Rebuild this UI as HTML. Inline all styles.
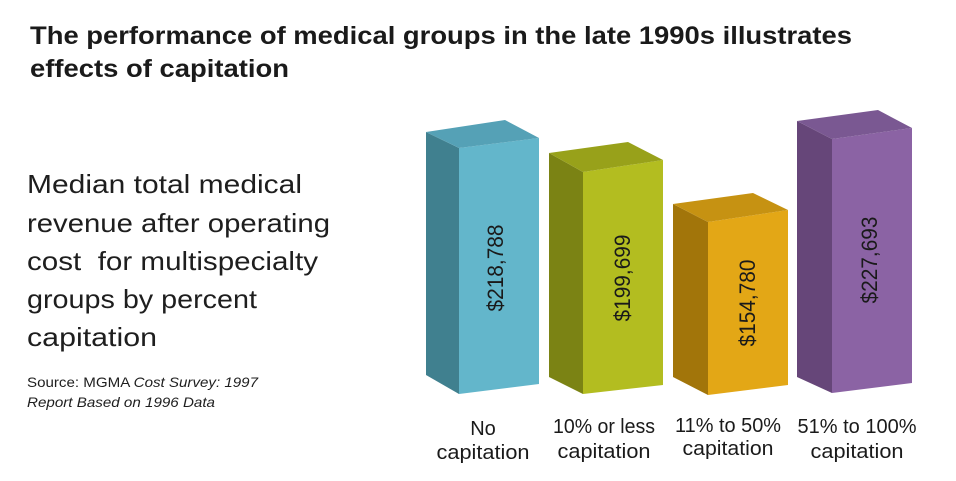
<!DOCTYPE html>
<html>
<head>
<meta charset="utf-8">
<style>
  html,body{margin:0;padding:0;background:#fff;}
  svg{display:block;}
  text{font-family:"Liberation Sans", sans-serif;}
</style>
</head>
<body>
<svg width="956" height="481" viewBox="0 0 956 481" xmlns="http://www.w3.org/2000/svg">
  <rect width="956" height="481" fill="#ffffff"/>

  <!-- Title -->
  <text x="30" y="44" font-size="25" font-weight="bold" fill="#1a1a1a" textLength="822" lengthAdjust="spacingAndGlyphs">The performance of medical groups in the late 1990s illustrates</text>
  <text x="30" y="77" font-size="25" font-weight="bold" fill="#1a1a1a" textLength="259" lengthAdjust="spacingAndGlyphs">effects of capitation</text>

  <!-- Left description -->
  <g font-size="26" fill="#1e1e1e">
    <text x="27" y="193" textLength="275" lengthAdjust="spacingAndGlyphs">Median total medical</text>
    <text x="27" y="232" textLength="303" lengthAdjust="spacingAndGlyphs">revenue after operating</text>
    <text x="27" y="270" textLength="291" lengthAdjust="spacingAndGlyphs" xml:space="preserve">cost  for multispecialty</text>
    <text x="27" y="308" textLength="230" lengthAdjust="spacingAndGlyphs">groups by percent</text>
    <text x="27" y="346" textLength="130" lengthAdjust="spacingAndGlyphs">capitation</text>
  </g>
  <g font-size="14" fill="#1e1e1e">
    <text x="27" y="387" textLength="231" lengthAdjust="spacingAndGlyphs">Source: MGMA <tspan font-style="italic">Cost Survey: 1997</tspan></text>
    <text x="27" y="407" font-style="italic" textLength="188" lengthAdjust="spacingAndGlyphs">Report Based on 1996 Data</text>
  </g>

  <!-- Bar 1 blue -->
  <polygon points="426,132 459,148 459,394 426,375" fill="#40808f"/>
  <polygon points="459,148 539,138 539,384 459,394" fill="#63b6cb"/>
  <polygon points="426,132 505,120 539,138 459,148" fill="#55a1b6"/>
  <text transform="translate(503,268) rotate(-90)" text-anchor="middle" font-size="22" fill="#1a1a1a" textLength="87" lengthAdjust="spacingAndGlyphs">$218,788</text>

  <!-- Bar 2 green -->
  <polygon points="549,153 583,172 583,394 549,377" fill="#7b8314"/>
  <polygon points="583,172 663,160 663,385 583,394" fill="#b3bd20"/>
  <polygon points="549,153 628,142 663,160 583,172" fill="#98a11a"/>
  <text transform="translate(630,278) rotate(-90)" text-anchor="middle" font-size="22" fill="#1a1a1a" textLength="87" lengthAdjust="spacingAndGlyphs">$199,699</text>

  <!-- Bar 3 orange -->
  <polygon points="673,204 708,222 708,395 673,377" fill="#a2750a"/>
  <polygon points="708,222 788,210 788,385 708,395" fill="#e3a716"/>
  <polygon points="673,204 753,193 788,210 708,222" fill="#c69212"/>
  <text transform="translate(755,303) rotate(-90)" text-anchor="middle" font-size="22" fill="#1a1a1a" textLength="87" lengthAdjust="spacingAndGlyphs">$154,780</text>

  <!-- Bar 4 purple -->
  <polygon points="797,121 832,139 832,393 797,377" fill="#664679"/>
  <polygon points="832,139 912,128 912,383 832,393" fill="#8b63a4"/>
  <polygon points="797,121 878,110 912,128 832,139" fill="#7a5892"/>
  <text transform="translate(877,260) rotate(-90)" text-anchor="middle" font-size="22" fill="#1a1a1a" textLength="87" lengthAdjust="spacingAndGlyphs">$227,693</text>

  <!-- Category labels -->
  <g font-size="20" fill="#1a1a1a" text-anchor="middle">
    <text x="483" y="435">No</text>
    <text x="483" y="459" textLength="93" lengthAdjust="spacingAndGlyphs">capitation</text>

    <text x="604" y="433" textLength="102" lengthAdjust="spacingAndGlyphs">10% or less</text>
    <text x="604" y="458" textLength="93" lengthAdjust="spacingAndGlyphs">capitation</text>

    <text x="728" y="432" textLength="106" lengthAdjust="spacingAndGlyphs">11% to 50%</text>
    <text x="728" y="455" textLength="91" lengthAdjust="spacingAndGlyphs">capitation</text>

    <text x="857" y="433" textLength="119" lengthAdjust="spacingAndGlyphs">51% to 100%</text>
    <text x="857" y="458" textLength="93" lengthAdjust="spacingAndGlyphs">capitation</text>
  </g>
</svg>
</body>
</html>
